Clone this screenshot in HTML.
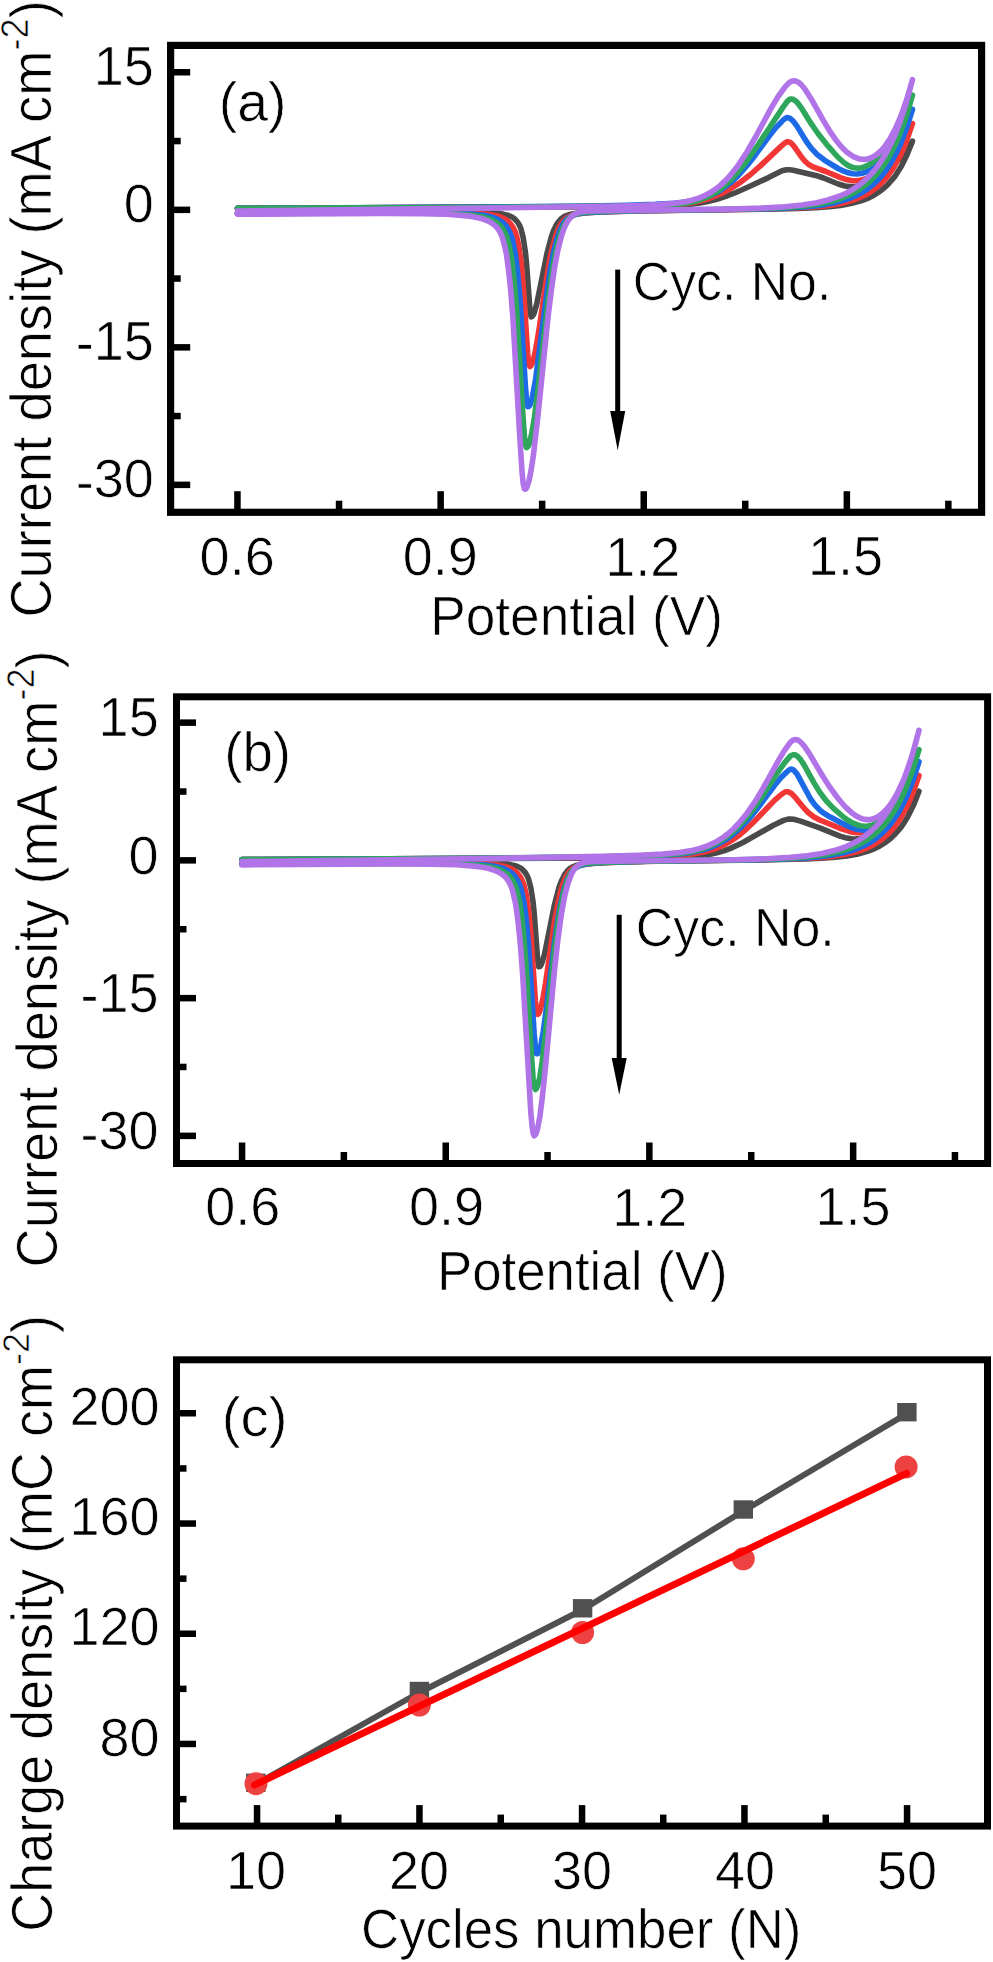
<!DOCTYPE html>
<html><head><meta charset="utf-8"><style>
html,body{margin:0;padding:0;background:#fff;overflow:hidden;}
svg{display:block;}
text{font-family:"Liberation Sans", sans-serif;fill:#000;stroke:#fff;stroke-width:0.7px;}
</style></head><body>
<svg width="993" height="1962" viewBox="0 0 993 1962">
<rect width="993" height="1962" fill="#fff"/>
<path d="M237.5 208.4L624.5 206.6L665.0 205.9L688.6 204.5L698.7 203.2L707.7 201.6L716.7 199.3L725.7 196.4L735.9 192.5L748.2 187.0L768.5 177.6L782.0 170.8L786.5 169.7L789.8 169.7L793.2 170.2L815.7 175.4L823.6 178.0L838.2 184.0L845.0 186.0L849.5 186.6L852.8 186.6L857.3 186.2L861.8 185.1L868.6 182.6L875.3 179.0L882.1 174.6L888.8 169.1L895.6 162.7L901.2 156.5L906.8 149.3L912.5 141.1L906.8 155.3L901.2 166.5L894.5 176.9L887.7 184.7L884.3 187.8L879.8 191.4L872.0 196.3L867.5 198.4L861.8 200.6L850.6 203.6L840.5 205.4L829.2 206.7L815.7 207.7L798.8 208.4L762.9 209.2L640.2 210.7L597.5 211.8L584.0 212.6L575.0 213.5L569.4 214.6L564.9 216.2L562.6 217.6L560.4 219.4L557.0 223.7L553.6 230.5L551.4 236.7L546.9 253.8L536.7 304.1L534.5 312.1L533.4 314.7L532.2 316.4L531.1 316.8L530.0 310.2L526.6 264.5L525.5 253.0L523.2 237.8L521.0 229.1L519.9 226.2L517.6 222.1L514.2 218.5L512.0 217.0L508.6 215.5L503.0 214.1L494.0 213.0L481.6 212.4L464.7 212.1L402.9 212.3L237.5 213.5" fill="none" stroke="#4a4a4a" stroke-width="5.6" stroke-linejoin="round" stroke-linecap="round"/>
<path d="M237.5 208.4L621.1 206.4L661.6 205.6L674.0 204.9L685.2 203.8L698.7 201.4L710.0 198.2L721.2 193.7L731.4 188.2L740.4 182.3L750.5 174.5L760.6 165.6L780.9 146.4L785.3 142.7L787.6 141.6L789.8 142.2L792.1 144.0L794.3 146.7L801.1 156.5L804.5 160.7L807.8 163.8L812.3 166.6L825.8 171.5L840.5 177.6L847.2 179.8L851.7 180.5L856.2 180.7L860.7 180.2L865.2 179.0L870.8 176.6L877.6 172.2L884.3 166.4L890.0 160.4L895.6 153.3L901.2 144.9L906.8 135.0L912.5 123.6L906.8 140.2L903.5 148.6L900.1 156.0L893.3 168.1L886.6 177.4L883.2 181.2L878.7 185.6L874.2 189.3L869.7 192.4L865.2 195.0L859.6 197.7L854.0 199.8L847.2 201.9L837.1 204.2L824.7 206.0L810.1 207.3L793.2 208.2L756.1 209.2L636.9 210.9L596.4 212.2L585.1 213.0L577.2 214.0L571.6 215.3L567.1 217.4L564.9 219.2L562.6 221.6L559.2 227.0L555.9 235.3L552.5 247.3L550.2 257.6L546.9 276.4L539.0 329.6L535.6 349.9L533.4 359.8L532.2 363.3L531.1 365.5L530.0 366.6L528.9 364.4L527.7 353.7L523.2 285.4L521.0 261.3L518.7 245.6L516.5 235.8L515.4 232.4L513.1 227.4L509.7 222.8L507.5 220.7L504.1 218.5L500.7 217.0L497.4 216.0L488.4 214.3L476.0 213.2L458.0 212.6L395.0 212.5L237.5 213.5" fill="none" stroke="#f23535" stroke-width="5.6" stroke-linejoin="round" stroke-linecap="round"/>
<path d="M237.5 208.3L470.4 207.1L588.5 206.0L626.7 205.2L654.9 204.3L674.0 203.2L687.5 201.7L699.9 199.2L705.5 197.4L711.1 195.3L716.7 192.5L721.2 189.8L730.2 183.1L738.1 175.7L747.1 165.5L755.0 155.4L769.6 135.5L776.4 127.1L783.1 120.1L785.3 118.3L786.5 117.8L787.6 117.6L789.8 118.2L793.2 121.1L796.6 125.6L806.7 142.0L811.2 148.1L816.8 154.2L824.7 160.3L838.2 168.5L843.8 171.2L848.3 172.8L852.8 173.8L857.3 174.0L861.8 173.3L866.3 171.9L872.0 168.9L877.6 164.6L884.3 157.9L890.0 151.0L895.6 142.8L901.2 133.2L906.8 122.1L912.5 109.3L906.8 127.5L900.1 144.9L893.3 158.6L890.0 164.3L885.5 171.0L881.0 176.6L876.5 181.4L872.0 185.4L867.5 188.9L863.0 191.9L857.3 195.0L851.7 197.5L845.0 199.9L836.0 202.4L824.7 204.6L812.3 206.2L797.7 207.4L779.7 208.4L757.2 209.0L641.4 210.8L599.7 212.0L586.2 212.8L578.4 213.8L572.7 215.4L568.2 217.9L566.0 220.1L563.7 222.9L560.4 229.3L557.0 238.8L553.6 252.3L550.2 270.4L546.9 292.8L535.6 379.6L532.2 397.8L530.0 404.8L528.9 406.4L527.7 406.6L526.6 400.6L525.5 387.6L519.9 297.8L517.6 272.0L515.4 254.2L513.1 242.4L512.0 238.2L509.7 232.0L506.4 226.3L504.1 223.8L500.7 221.1L497.4 219.2L494.0 217.8L489.5 216.5L483.9 215.3L471.5 214.0L453.5 213.1L428.7 212.7L390.5 212.6L237.5 213.6" fill="none" stroke="#1c6ae6" stroke-width="5.6" stroke-linejoin="round" stroke-linecap="round"/>
<path d="M237.5 208.4L499.6 207.2L614.4 206.3L661.6 205.3L675.1 204.4L686.4 203.1L693.1 201.7L698.7 200.2L704.4 198.2L710.0 195.7L715.6 192.4L720.1 189.3L725.7 184.7L730.2 180.5L738.1 171.9L747.1 160.4L758.4 144.4L783.1 107.1L787.6 101.0L789.8 99.3L791.0 99.0L793.2 99.3L795.5 100.8L797.7 103.0L801.1 107.6L811.2 123.7L818.0 133.5L828.1 146.2L838.2 157.5L843.8 162.5L848.3 165.6L851.7 167.1L854.0 167.8L858.5 168.2L861.8 167.7L865.2 166.6L868.6 164.9L872.0 162.6L878.7 156.5L885.5 148.4L893.3 136.5L900.1 124.1L906.8 109.4L912.5 95.1L905.7 118.1L899.0 136.4L895.6 144.1L891.1 153.1L887.7 159.0L883.2 166.0L878.7 171.9L874.2 177.1L869.7 181.5L865.2 185.3L859.6 189.3L854.0 192.7L848.3 195.4L841.6 198.2L831.5 201.3L820.2 203.7L806.7 205.7L791.0 207.1L771.9 208.2L746.0 209.0L629.0 210.8L591.9 211.8L582.9 212.5L577.2 213.6L572.7 215.5L569.4 218.0L567.1 220.4L564.9 223.8L562.6 228.4L560.4 234.3L557.0 246.3L553.6 262.8L551.4 276.5L548.0 300.9L537.9 390.2L534.5 416.9L532.2 431.1L530.0 441.3L528.9 444.6L527.7 446.8L526.6 447.6L525.5 445.1L524.4 435.9L522.1 403.2L516.5 308.8L514.2 281.6L512.0 261.8L509.7 248.2L508.6 243.2L506.4 235.9L503.0 229.1L500.7 226.2L498.5 224.0L495.1 221.6L491.7 219.8L487.2 218.1L481.6 216.6L468.1 214.7L450.1 213.6L424.2 213.0L387.1 212.8L237.5 213.6" fill="none" stroke="#2ea65c" stroke-width="5.6" stroke-linejoin="round" stroke-linecap="round"/>
<path d="M237.5 211.1L486.1 208.1L607.6 206.2L639.1 205.5L659.4 204.6L674.0 203.4L685.2 201.8L692.0 200.2L698.7 198.1L704.4 195.8L710.0 192.8L715.6 189.1L720.1 185.6L725.7 180.4L730.2 175.5L738.1 165.5L747.1 151.7L755.0 138.0L770.7 108.9L778.6 95.8L785.3 86.6L788.7 83.1L791.0 81.5L792.1 81.0L794.3 80.7L797.7 81.8L801.1 84.5L804.5 88.5L811.2 98.9L823.6 120.9L829.2 130.3L836.0 140.2L841.6 147.0L847.2 152.4L852.8 156.3L858.5 158.7L861.8 159.3L864.1 159.4L867.5 159.0L870.8 158.0L874.2 156.3L877.6 153.9L881.0 150.8L884.3 147.0L890.0 138.9L895.6 128.4L901.2 115.3L906.8 99.2L912.5 79.7L905.7 104.7L899.0 124.9L895.6 133.4L891.1 143.5L887.7 150.1L883.2 158.0L878.7 164.7L874.2 170.6L869.7 175.7L864.1 181.1L858.5 185.6L852.8 189.4L846.1 193.2L839.3 196.2L828.1 200.0L815.7 202.9L802.2 205.0L785.3 206.8L761.7 208.1L730.2 209.1L588.5 211.0L581.7 211.7L577.2 212.9L573.9 214.6L570.5 217.5L568.2 220.4L566.0 224.2L563.7 229.3L561.5 235.8L558.1 249.0L554.7 266.7L551.4 289.5L548.0 317.1L537.9 416.1L533.4 455.2L531.1 470.3L528.9 481.4L526.6 487.9L525.5 489.3L524.4 489.0L523.2 483.5L522.1 472.6L519.9 438.8L513.1 320.8L510.9 291.8L508.6 269.9L506.4 254.2L505.2 248.3L503.0 239.5L501.9 236.2L499.6 231.4L497.4 228.0L495.1 225.6L491.7 223.0L488.4 221.1L483.9 219.3L478.2 217.7L471.5 216.4L464.7 215.6L446.7 214.3L420.9 213.6L383.7 213.4L237.5 214.3" fill="none" stroke="#b073e8" stroke-width="5.6" stroke-linejoin="round" stroke-linecap="round"/>
<rect x="234.2" y="491.2" width="6.5" height="18.5"/>
<rect x="437.4" y="491.2" width="6.5" height="18.5"/>
<rect x="640.5" y="491.2" width="6.5" height="18.5"/>
<rect x="843.6" y="491.2" width="6.5" height="18.5"/>
<rect x="335.8" y="500.7" width="6.5" height="9"/>
<rect x="538.9" y="500.7" width="6.5" height="9"/>
<rect x="742.0" y="500.7" width="6.5" height="9"/>
<rect x="945.1" y="500.7" width="6.5" height="9"/>
<rect x="173.2" y="69.0" width="17" height="6.5"/>
<rect x="173.2" y="206.6" width="17" height="6.5"/>
<rect x="173.2" y="344.1" width="17" height="6.5"/>
<rect x="173.2" y="481.6" width="17" height="6.5"/>
<rect x="173.2" y="137.8" width="7.5" height="6.5"/>
<rect x="173.2" y="275.3" width="7.5" height="6.5"/>
<rect x="173.2" y="412.8" width="7.5" height="6.5"/>
<rect x="170.6" y="45.4" width="811.0" height="466.9" fill="none" stroke="#000" stroke-width="7.2"/>
<path d="M242.0 859.6L632.4 857.8L676.4 857.2L688.8 856.7L699.0 855.9L708.0 854.7L715.9 853.1L723.8 850.9L730.5 848.4L743.0 842.5L773.4 825.2L783.6 820.4L788.1 819.1L790.3 819.0L793.7 819.3L800.5 821.1L819.7 827.8L840.0 836.1L846.8 838.1L851.3 838.8L855.8 839.0L860.3 838.6L865.9 837.3L872.7 834.8L879.5 831.4L887.4 826.2L894.1 820.8L900.9 814.5L907.7 806.9L913.3 799.6L919.0 791.2L913.3 805.6L907.7 816.8L904.3 822.4L900.9 827.3L894.1 835.1L890.8 838.3L886.2 841.9L878.3 846.8L873.8 848.9L868.2 851.1L856.9 854.2L846.8 856.0L835.5 857.3L821.9 858.3L805.0 859.0L768.9 859.8L648.2 861.3L605.3 862.4L591.8 863.2L582.7 864.1L577.1 865.2L572.6 866.9L570.3 868.2L568.1 870.1L564.7 874.4L561.3 881.2L559.0 887.5L554.5 904.6L544.4 954.7L542.1 962.4L541.0 965.0L539.9 966.5L538.7 966.7L537.6 959.0L534.2 913.3L533.1 902.2L530.8 887.6L528.6 879.2L527.5 876.4L525.2 872.5L521.8 868.9L519.6 867.5L516.2 866.0L510.5 864.6L501.5 863.5L489.1 863.0L472.2 862.7L409.0 862.9L242.0 864.1" fill="none" stroke="#4a4a4a" stroke-width="5.6" stroke-linejoin="round" stroke-linecap="round"/>
<path d="M242.0 859.6L480.1 858.4L597.4 857.5L660.6 856.2L677.5 855.4L691.1 854.2L703.5 852.1L713.6 849.3L723.8 845.0L732.8 839.8L739.6 834.9L746.3 829.1L754.2 821.5L774.5 800.4L781.3 794.5L784.7 792.2L785.8 791.7L788.1 791.7L791.5 793.5L794.9 796.9L803.9 808.0L808.4 812.7L814.0 817.0L819.7 820.0L842.2 829.1L851.3 831.9L856.9 832.7L861.4 832.7L865.9 832.1L870.4 830.8L877.2 827.8L884.0 823.4L890.8 817.6L896.4 811.6L902.0 804.6L907.7 796.3L913.3 786.7L919.0 775.5L913.3 791.9L909.9 800.2L906.6 807.4L899.8 819.3L893.0 828.5L889.6 832.2L885.1 836.6L880.6 840.2L876.1 843.2L871.6 845.8L865.9 848.4L860.3 850.6L853.5 852.6L843.4 854.8L831.0 856.6L816.3 858.0L799.4 858.8L762.1 859.8L643.7 861.4L603.0 862.7L590.6 863.6L582.7 864.6L577.1 866.1L573.7 867.7L571.5 869.4L569.2 871.8L565.8 877.3L562.4 885.8L560.2 893.6L557.9 903.4L554.5 921.8L545.5 983.4L543.2 997.0L541.0 1007.4L539.9 1011.0L538.7 1013.4L537.6 1014.4L536.5 1011.9L535.4 1000.8L530.8 933.3L528.6 910.0L526.3 894.9L524.1 885.5L522.9 882.2L520.7 877.5L517.3 873.0L515.0 871.0L511.7 868.9L504.9 866.4L495.9 864.8L483.5 863.8L465.4 863.2L402.2 863.0L242.0 864.1" fill="none" stroke="#f23535" stroke-width="5.6" stroke-linejoin="round" stroke-linecap="round"/>
<path d="M242.0 859.5L475.6 858.3L595.1 857.1L632.4 856.4L658.3 855.5L676.4 854.4L689.9 852.7L702.3 850.1L708.0 848.3L713.6 846.1L719.3 843.4L723.8 840.9L729.4 837.1L733.9 833.6L741.8 826.4L750.9 816.6L758.7 806.7L774.5 785.6L781.3 777.3L788.1 770.7L790.3 769.2L791.5 769.1L793.7 770.1L797.1 774.1L810.6 799.0L815.2 805.3L820.8 810.9L824.2 813.4L829.8 816.8L843.4 823.9L850.1 827.1L854.7 828.7L859.2 829.8L863.7 830.2L868.2 830.0L871.6 829.3L875.0 828.1L878.3 826.4L881.7 824.3L888.5 818.6L895.3 810.7L902.0 800.4L907.7 789.8L913.3 777.1L919.0 761.7L913.3 779.6L906.6 796.7L899.8 810.2L896.4 815.7L891.9 822.2L887.4 827.8L882.9 832.4L878.3 836.5L873.8 839.9L869.3 842.8L863.7 845.8L858.0 848.3L851.3 850.7L842.2 853.1L831.0 855.3L818.5 856.9L803.9 858.1L785.8 859.0L763.3 859.6L647.0 861.3L606.4 862.5L592.9 863.3L585.0 864.2L579.4 865.7L574.8 868.2L572.6 870.4L570.3 873.4L566.9 880.1L563.6 890.6L560.2 905.5L557.9 918.4L554.5 941.8L546.6 1007.0L543.2 1031.9L541.0 1044.3L539.9 1048.8L538.7 1051.9L537.6 1053.7L536.5 1053.7L535.4 1047.1L534.2 1033.9L528.6 945.3L526.3 920.4L524.1 903.2L521.8 891.9L520.7 887.8L518.4 881.9L515.0 876.4L512.8 874.0L509.4 871.4L506.0 869.6L502.6 868.2L498.1 866.9L492.5 865.8L480.1 864.5L462.0 863.6L437.2 863.3L398.8 863.2L242.0 864.2" fill="none" stroke="#1c6ae6" stroke-width="5.6" stroke-linejoin="round" stroke-linecap="round"/>
<path d="M242.0 859.5L478.9 858.2L598.5 856.9L634.6 856.1L659.5 855.1L677.5 853.7L691.1 851.7L697.8 850.2L704.6 848.2L710.2 846.0L715.9 843.4L721.5 840.2L726.0 837.2L731.7 832.8L736.2 828.8L745.2 819.3L754.2 807.9L762.1 796.5L777.9 772.1L784.7 762.7L790.3 756.2L791.5 755.4L793.7 754.7L794.9 754.8L797.1 756.0L800.5 759.5L803.9 764.6L814.0 782.9L819.7 792.1L826.4 801.0L833.2 808.2L843.4 817.0L847.9 820.2L852.4 822.8L856.9 824.7L860.3 825.7L864.8 826.2L868.2 826.0L871.6 825.3L875.0 824.0L878.3 822.2L881.7 819.8L885.1 816.8L888.5 813.3L895.3 804.4L902.0 792.9L907.7 781.0L913.3 766.7L919.0 749.6L912.2 771.8L905.4 789.5L902.0 796.9L897.5 805.6L894.1 811.3L889.6 818.0L885.1 823.8L880.6 828.8L876.1 833.0L871.6 836.7L865.9 840.6L860.3 843.8L854.7 846.5L847.9 849.1L837.7 852.1L825.3 854.7L811.8 856.5L796.0 857.9L776.8 858.9L752.0 859.6L635.8 861.4L598.5 862.4L588.4 863.1L582.7 864.0L578.2 865.6L574.8 868.0L572.6 870.4L570.3 873.8L566.9 881.5L563.6 893.2L560.2 909.8L557.9 924.1L554.5 950.0L545.5 1034.2L542.1 1062.2L539.9 1076.5L538.7 1081.8L537.6 1085.8L536.5 1088.4L535.4 1089.5L534.2 1087.2L533.1 1078.3L530.8 1046.1L526.3 969.9L524.1 940.1L521.8 917.9L519.6 902.4L518.4 896.6L516.2 888.2L515.0 885.1L512.8 880.5L510.5 877.3L507.1 874.0L503.8 871.7L500.4 870.0L495.9 868.4L490.2 867.0L476.7 865.1L458.6 864.1L432.7 863.5L395.4 863.4L242.0 864.2" fill="none" stroke="#2ea65c" stroke-width="5.6" stroke-linejoin="round" stroke-linecap="round"/>
<path d="M242.0 861.6L482.3 858.6L603.0 856.4L639.2 855.3L662.8 854.1L679.8 852.5L693.3 850.2L700.1 848.4L706.8 846.1L712.5 843.7L718.1 840.7L723.8 837.0L728.3 833.5L733.9 828.5L738.4 823.8L746.3 814.3L755.4 801.1L763.3 787.9L779.1 759.4L784.7 750.1L790.3 742.4L792.6 740.4L794.9 739.6L797.1 739.8L799.4 741.0L801.6 743.0L805.0 747.1L809.5 753.9L823.1 776.8L829.8 787.2L837.7 798.0L845.6 807.2L852.4 813.3L855.8 815.7L859.2 817.6L862.5 818.9L865.9 819.6L869.3 819.6L871.6 819.3L875.0 818.3L878.3 816.5L881.7 814.1L885.1 810.9L888.5 807.1L891.9 802.4L897.5 792.9L903.2 780.8L908.8 765.9L914.4 747.7L919.0 730.3L912.2 755.3L905.4 775.5L902.0 784.0L897.5 794.1L894.1 800.7L889.6 808.6L885.1 815.3L880.6 821.2L876.1 826.3L870.4 831.7L864.8 836.2L859.2 840.0L852.4 843.8L845.6 846.8L834.3 850.6L821.9 853.5L807.3 855.8L790.3 857.4L766.6 858.8L735.1 859.7L592.9 861.5L587.3 862.0L582.7 862.9L579.4 864.4L576.0 867.1L573.7 869.9L571.5 873.9L568.1 882.7L564.7 895.9L561.3 914.5L557.9 939.3L554.5 970.0L545.5 1066.9L542.1 1099.2L539.9 1116.2L537.6 1128.4L536.5 1132.3L535.4 1134.8L534.2 1135.7L533.1 1133.3L532.0 1125.2L530.8 1112.1L522.9 978.1L520.7 947.7L518.4 924.4L516.2 907.5L515.0 901.1L512.8 891.5L511.7 888.0L509.4 882.7L507.1 879.1L504.9 876.5L501.5 873.8L498.1 871.8L493.6 870.0L488.0 868.3L481.2 867.0L474.4 866.1L456.4 864.8L430.4 864.2L393.2 863.9L242.0 864.9" fill="none" stroke="#b073e8" stroke-width="5.6" stroke-linejoin="round" stroke-linecap="round"/>
<rect x="238.8" y="1142.5" width="6.5" height="18.5"/>
<rect x="442.5" y="1142.5" width="6.5" height="18.5"/>
<rect x="646.1" y="1142.5" width="6.5" height="18.5"/>
<rect x="849.9" y="1142.5" width="6.5" height="18.5"/>
<rect x="340.6" y="1152.0" width="6.5" height="9"/>
<rect x="544.3" y="1152.0" width="6.5" height="9"/>
<rect x="748.0" y="1152.0" width="6.5" height="9"/>
<rect x="951.7" y="1152.0" width="6.5" height="9"/>
<rect x="179.0" y="719.4" width="17" height="6.5"/>
<rect x="179.0" y="857.1" width="17" height="6.5"/>
<rect x="179.0" y="994.9" width="17" height="6.5"/>
<rect x="179.0" y="1132.6" width="17" height="6.5"/>
<rect x="179.0" y="788.3" width="7.5" height="6.5"/>
<rect x="179.0" y="926.0" width="7.5" height="6.5"/>
<rect x="179.0" y="1063.7" width="7.5" height="6.5"/>
<rect x="176.5" y="696.8" width="811.1" height="466.7" fill="none" stroke="#000" stroke-width="7.0"/>
<rect x="253.8" y="1805.1" width="6.5" height="18.5"/>
<rect x="416.2" y="1805.1" width="6.5" height="18.5"/>
<rect x="578.8" y="1805.1" width="6.5" height="18.5"/>
<rect x="741.2" y="1805.1" width="6.5" height="18.5"/>
<rect x="903.8" y="1805.1" width="6.5" height="18.5"/>
<rect x="335.0" y="1814.6" width="6.5" height="9"/>
<rect x="497.5" y="1814.6" width="6.5" height="9"/>
<rect x="660.0" y="1814.6" width="6.5" height="9"/>
<rect x="822.5" y="1814.6" width="6.5" height="9"/>
<rect x="179.0" y="1740.7" width="17" height="6.5"/>
<rect x="179.0" y="1630.5" width="17" height="6.5"/>
<rect x="179.0" y="1520.3" width="17" height="6.5"/>
<rect x="179.0" y="1410.0" width="17" height="6.5"/>
<rect x="179.0" y="1795.9" width="7.5" height="6.5"/>
<rect x="179.0" y="1685.6" width="7.5" height="6.5"/>
<rect x="179.0" y="1575.4" width="7.5" height="6.5"/>
<rect x="179.0" y="1465.2" width="7.5" height="6.5"/>
<rect x="176.5" y="1359.8" width="811.0" height="466.3" fill="none" stroke="#000" stroke-width="7.0"/>
<path d="M255.8 1784.3L419.4 1692.5L582.6 1609.8L743.3 1511.0L906.9 1413.7" fill="none" stroke="#505050" stroke-width="6" stroke-linejoin="round"/>
<rect x="246.1" y="1773.6" width="19.4" height="18.4" fill="#505050"/>
<rect x="409.7" y="1681.8" width="19.4" height="18.4" fill="#505050"/>
<rect x="572.9" y="1599.1" width="19.4" height="18.4" fill="#505050"/>
<rect x="733.6" y="1500.3" width="19.4" height="18.4" fill="#505050"/>
<rect x="897.2" y="1403.0" width="19.4" height="18.4" fill="#505050"/>
<circle cx="256.0" cy="1783.7" r="11.5" fill="#ee4242"/>
<circle cx="419.4" cy="1705.0" r="11.5" fill="#ee4242"/>
<circle cx="582.6" cy="1632.5" r="11.5" fill="#ee4242"/>
<circle cx="743.3" cy="1558.8" r="11.5" fill="#ee4242"/>
<circle cx="906.1" cy="1466.9" r="11.5" fill="#ee4242"/>
<path d="M254.5 1785L906.6 1473.4" fill="none" stroke="#ff0000" stroke-width="7" stroke-linecap="round"/>
<rect x="615.2" y="269.6" width="5" height="143.4"/><path d="M610.2 411L625.2 411L617.7 450.3Z"/>
<rect x="616.7" y="914.8" width="5" height="145.2"/><path d="M611.7 1058L626.7 1058L619.2 1094.7Z"/>
<text font-size="54" transform="translate(93.70 84.91) scale(1.0000 1.0342)">15</text>
<text font-size="54" transform="translate(123.70 222.44) scale(1.0000 1.0077)">0</text>
<text font-size="54" transform="translate(75.70 359.92) scale(1.0000 1.0342)"><tspan dy="2.2">-</tspan><tspan dy="-2.2">15</tspan></text>
<text font-size="54" transform="translate(75.70 497.45) scale(1.0000 1.0077)"><tspan dy="2.2">-</tspan><tspan dy="-2.2">30</tspan></text>
<text font-size="54" transform="translate(199.60 574.80) scale(1.0000 1.0000)">0.6</text>
<text font-size="54" transform="translate(402.70 574.80) scale(1.0000 1.0000)">0.9</text>
<text font-size="54" transform="translate(605.30 575.80) scale(1.0000 1.0263)">1.2</text>
<text font-size="54" transform="translate(807.90 574.77) scale(1.0000 1.0263)">1.5</text>
<text font-size="54" transform="translate(430.26 634.80) scale(0.9855 1.0348)">Potential (V)</text>
<text font-size="54" transform="translate(218.72 120.92) scale(1.0267 1.0160)">(a)</text>
<text font-size="52" transform="translate(632.81 299.70) scale(0.9958 1.0456)">Cyc. No.</text>
<text font-size="54" transform="translate(50.80 617.62) rotate(-90) scale(1.0056 1.0559)">Current density (mA cm<tspan font-size="36" dy="-22">-2</tspan><tspan dy="22">)</tspan></text>
<text font-size="54" transform="translate(98.60 736.19) scale(1.0000 1.0342)">15</text>
<text font-size="54" transform="translate(128.60 873.94) scale(1.0000 1.0077)">0</text>
<text font-size="54" transform="translate(80.60 1011.65) scale(1.0000 1.0342)"><tspan dy="2.2">-</tspan><tspan dy="-2.2">15</tspan></text>
<text font-size="54" transform="translate(80.60 1149.40) scale(1.0000 1.0077)"><tspan dy="2.2">-</tspan><tspan dy="-2.2">30</tspan></text>
<text font-size="54" transform="translate(205.30 1224.92) scale(1.0000 0.9821)">0.6</text>
<text font-size="54" transform="translate(409.00 1224.92) scale(1.0000 0.9821)">0.9</text>
<text font-size="54" transform="translate(612.20 1225.90) scale(1.0000 1.0079)">1.2</text>
<text font-size="54" transform="translate(815.40 1224.89) scale(1.0000 1.0079)">1.5</text>
<text font-size="54" transform="translate(436.99 1289.60) scale(0.9779 1.0268)">Potential (V)</text>
<text font-size="54" transform="translate(224.16 770.92) scale(1.0133 1.0160)">(b)</text>
<text font-size="52" transform="translate(635.81 946.30) scale(0.9979 1.0478)">Cyc. No.</text>
<text font-size="54" transform="translate(56.80 1267.52) rotate(-90) scale(1.0051 1.0554)">Current density (mA cm<tspan font-size="36" dy="-22">-2</tspan><tspan dy="22">)</tspan></text>
<text font-size="54" transform="translate(99.50 1755.64) scale(1.0000 1.0077)">80</text>
<text font-size="54" transform="translate(69.50 1645.41) scale(1.0000 1.0077)">120</text>
<text font-size="54" transform="translate(69.50 1535.17) scale(1.0000 1.0077)">160</text>
<text font-size="54" transform="translate(69.50 1424.94) scale(1.0000 1.0077)">200</text>
<text font-size="54" transform="translate(226.00 1888.99) scale(1.0000 1.0103)">10</text>
<text font-size="54" transform="translate(389.00 1888.99) scale(1.0000 1.0103)">20</text>
<text font-size="54" transform="translate(552.00 1888.99) scale(1.0000 1.0103)">30</text>
<text font-size="54" transform="translate(715.00 1888.99) scale(1.0000 1.0103)">40</text>
<text font-size="54" transform="translate(877.00 1888.99) scale(1.0000 1.0103)">50</text>
<text font-size="54" transform="translate(360.96 1948.20) scale(0.9788 1.0278)">Cycles number (N)</text>
<text font-size="54" transform="translate(221.87 1435.92) scale(1.0421 1.0160)">(c)</text>
<text font-size="54" transform="translate(52.00 1931.70) rotate(-90) scale(0.9992 1.0491)">Charge density (mC cm<tspan font-size="36" dy="-22">-2</tspan><tspan dy="22">)</tspan></text>
</svg></body></html>
